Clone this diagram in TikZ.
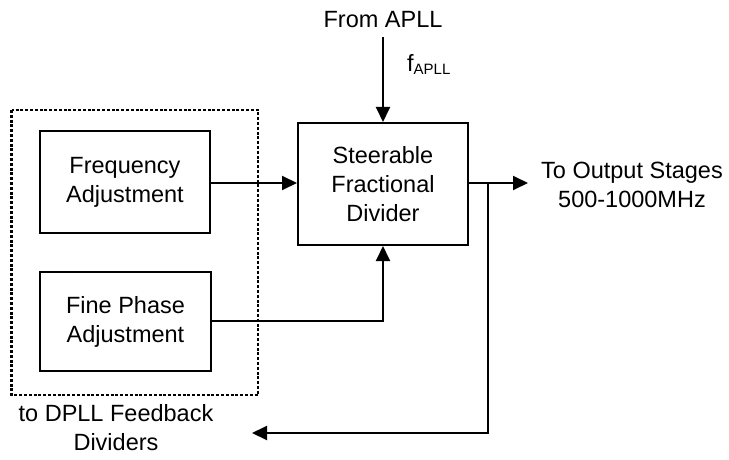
\documentclass[tikz,border=0pt]{standalone}
\usepackage{fontspec}
\setmainfont{Liberation Sans}
\usetikzlibrary{arrows.meta}
\begin{document}
\begin{tikzpicture}[x=1pt,y=-1pt,
  blk/.style={draw,line width=2pt,align=center,inner sep=0pt},
  lbl/.style={align=center,inner sep=0pt,font=\fontsize{23.5}{29}\selectfont},
  ln/.style={line width=2pt},
  arr/.style={line width=2pt,-{Triangle[length=15pt,width=14pt]}}]
\useasboundingbox (0,0) rectangle (729,460);
\draw[line width=2.6pt,dash pattern=on 3pt off 1.8pt] (11.5,110) rectangle (258,395);
\node[blk,minimum width=170pt,minimum height=102pt,lbl] (freq) at (125,182) {Frequency\\Adjustment};
\node[blk,minimum width=171pt,minimum height=99pt,lbl] (fine) at (125.5,321.5) {Fine Phase\\Adjustment};
\node[blk,minimum width=170pt,minimum height=122pt,lbl] (sfd) at (383,184) {Steerable\\Fractional\\Divider};
\node[lbl] (apll) at (383,20) {From APLL};
\node[lbl,anchor=base west] (fapll) at (407,72) {f{\fontsize{15}{15}\selectfont\raisebox{-2.5pt}{APLL}}};
\node[lbl] (out) at (632,185) {To Output Stages\\500-1000MHz};
\node[lbl] (dpll) at (116,428) {to DPLL Feedback\\Dividers};
\coordinate (top) at (383,37);
\coordinate (j) at (488,183);
\coordinate (otip) at (528,183);
\coordinate (jb) at (488,433);
\coordinate (ftip) at (252,433);
\draw[arr] (top) -- (sfd.north);
\draw[arr] (freq.east |- 0,183) -- (sfd.west |- 0,183);
\draw[arr] (fine.east |- 0,321) -| (sfd.south);
\draw[arr] (sfd.east |- j) -- (otip);
\draw[arr] (j) -- (jb) -- (ftip);
\end{tikzpicture}
\end{document}
